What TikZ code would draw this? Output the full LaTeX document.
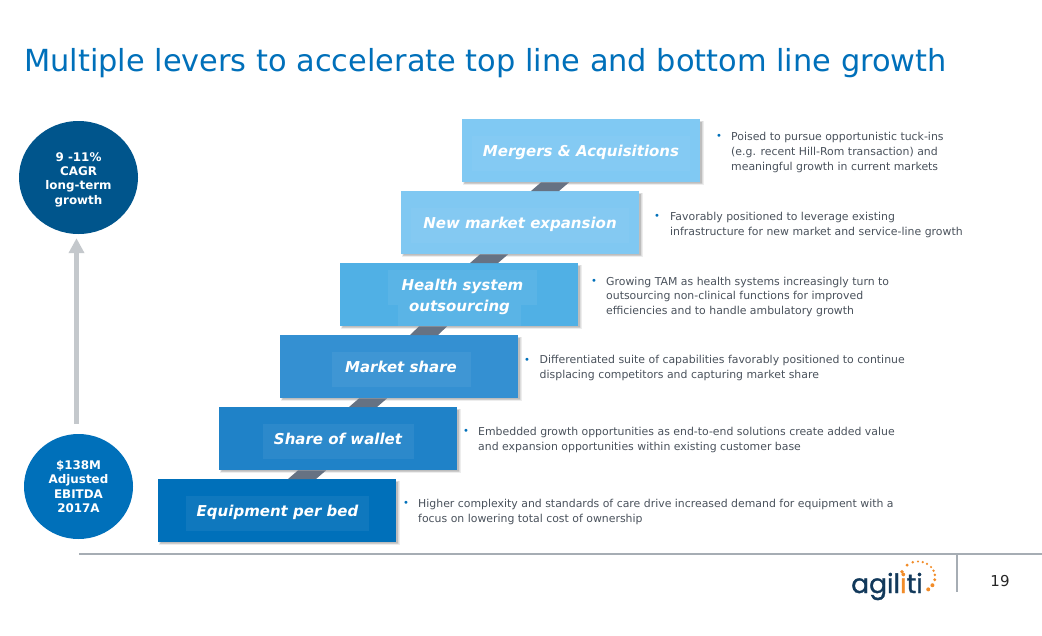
\documentclass[tikz,border=0pt]{standalone}
\usepackage{fontspec}
\setmainfont{DejaVu Sans}
\newfontfamily\logofont[FakeBold=1.2]{Poppins}
\usetikzlibrary{calc,shapes.geometric,arrows.meta}
\definecolor{brandblue}{HTML}{0070BA}
\definecolor{brandnavy}{HTML}{00558C}
\definecolor{boxA}{HTML}{0070BA}
\definecolor{boxB}{HTML}{1F82C8}
\definecolor{boxC}{HTML}{3490D2}
\definecolor{boxD}{HTML}{50B0E5}
\definecolor{boxE}{HTML}{80C8F2}
\definecolor{boxF}{HTML}{80C9F3}
\definecolor{stair}{HTML}{667283}
\definecolor{bodytext}{HTML}{4A525C}
\definecolor{rulegrey}{HTML}{A6ADB4}
\definecolor{arrowgrey}{HTML}{C4C8CC}
\definecolor{logonavy}{HTML}{12395B}
\definecolor{logoorange}{HTML}{F28C28}
\tikzset{
  levelbox/.style={draw=none,inner sep=0pt,minimum width=238pt,minimum height=63pt,anchor=north west},
  boxshadow/.style={fill=black,fill opacity=0.07},
  levellabel/.style={fill=white,fill opacity=0.06,text opacity=1,text=white,inner sep=0pt,
    text height=10pt,text depth=3.4pt,
    font=\fontsize{15}{18}\selectfont\bfseries\itshape},
  noteline/.style={anchor=west,align=left,inner sep=0pt,text=bodytext,
    font=\fontsize{10.9}{14.7}\selectfont},
  bulletmark/.style={inner sep=0pt,text=brandblue,font=\fontsize{10}{10}\selectfont},
  growth/.style={ellipse,inner sep=0pt,align=center,text=white,
    font=\fontsize{11.9}{14.4}\selectfont\bfseries},
  stairlink/.style={fill=stair},
}
\begin{document}
\begin{tikzpicture}[x=1pt,y=-1pt]
\useasboundingbox (0,0) rectangle (1042,635);
\fill[white] (0,0) rectangle (1042,635);

\node[anchor=west,inner sep=0pt,text=brandblue,font=\fontsize{30.4}{36}\selectfont] (title) at (24,63.5)
  {Multiple levers to accelerate top line and bottom line growth};

% shadows
\foreach \x/\y in {158/479,219/407,280/335,340/263,401/191,462/119}{
  \fill[boxshadow] (\x+1,\y+1.5) rectangle (\x+241.5,\y+65.5);
  \fill[boxshadow] (\x+1.5,\y+2) rectangle (\x+240.5,\y+65);
  \fill[boxshadow] (\x+2,\y+2.5) rectangle (\x+240,\y+64.5);
  \fill[boxshadow] (\x+2.5,\y+3) rectangle (\x+239.5,\y+64);
}

% steps
\node[levelbox,fill=boxA] (equip) at (158,479) {};
\node[levelbox,fill=boxB] (wallet) at (219,407) {};
\node[levelbox,fill=boxC] (share) at (280,335) {};
\node[levelbox,fill=boxD] (health) at (340,263) {};
\node[levelbox,fill=boxE] (newmkt) at (401,191) {};
\node[levelbox,fill=boxF] (merger) at (462,119) {};

% links
\foreach \lo/\up in {equip/wallet,wallet/share,share/health,health/newmkt,newmkt/merger}{
  \fill[stairlink] ($(\up.south west)+(79,0)$) -- ($(\up.south west)+(107,0)$)
    -- ($(\lo.north west)+(158,0)$) -- ($(\lo.north west)+(130,0)$) -- cycle;
}

% labels
\node[levellabel,minimum width=183pt,minimum height=35pt] (lA) at (277.5,513.5) {Equipment per bed};
\node[levellabel,minimum width=151pt,minimum height=35pt] (lB) at (338,441.5) {Share of wallet};
\node[levellabel,minimum width=139pt,minimum height=35pt] (lC) at (401,369.5) {Market share};
\node[levellabel,minimum width=149pt,minimum height=35pt] (lD1) at (462.5,287.5) {Health system};
\node[levellabel,minimum width=123pt,minimum height=21pt,text height=3pt,text depth=3pt] (lD2) at (459.5,315.5) {\smash{\raisebox{4.5pt}{outsourcing}}};
\node[levellabel,minimum width=218pt,minimum height=35pt,fill opacity=0.035] (lE) at (520,225.5) {New market expansion};
\node[levellabel,minimum width=218pt,minimum height=35pt,fill opacity=0.035] (lF) at (581,153.5) {Mergers \& Acquisitions};

% notes
\node[bulletmark] (bF) at (719,137) {•};
\node[noteline] (nF) at (731,152.3) {Poised to pursue opportunistic tuck-ins\\(e.g. recent Hill-Rom transaction) and\\meaningful growth in current markets};
\node[bulletmark] (bE) at (657,217) {•};
\node[noteline] (nE) at (670,224.8) {Favorably positioned to leverage existing\\infrastructure for new market and service-line growth};
\node[bulletmark] (bD) at (594,282) {•};
\node[noteline] (nD) at (606,296.8) {Growing TAM as health systems increasingly turn to\\outsourcing non-clinical functions for improved\\efficiencies and to handle ambulatory growth};
\node[bulletmark] (bC) at (527,361) {•};
\node[noteline] (nC) at (539.5,368.3) {Differentiated suite of capabilities favorably positioned to continue\\displacing competitors and capturing market share};
\node[bulletmark] (bB) at (466,432) {•};
\node[noteline] (nB) at (478,439.8) {Embedded growth opportunities as end-to-end solutions create added value\\and expansion opportunities within existing customer base};
\node[bulletmark] (bA) at (406,504) {•};
\node[noteline] (nA) at (418,511.8) {Higher complexity and standards of care drive increased demand for equipment with a\\focus on lowering total cost of ownership};

% circles
\node[growth,fill=brandnavy,minimum width=119pt,minimum height=113pt] (goal) at (78.5,177.5) {\rule{0pt}{13pt}9 -11\%\\CAGR\\long-term\\growth};
\node[growth,fill=brandblue,minimum width=109pt,minimum height=105pt] (base) at (78.5,486.5) {\$138M\\Adjusted\\EBITDA\\2017A};
\draw[arrowgrey,line width=5.5pt,-{Triangle[length=15pt,width=15pt]},shorten <=10pt,shorten >=4pt]
  ($(base.north)+(-2,0)$) -- ($(goal.south)+(-2,0)$);

% footer
\coordinate (ruleL) at (79,553.5);
\coordinate (ruleR) at (1042,553.5);
\coordinate (tickB) at (957,592);
\draw[rulegrey,line width=2pt] (ruleL) -- (ruleR);
\draw[rulegrey,line width=1.3pt] (957,553.5) -- (tickB);
\node[inner sep=0pt,text=black!85,font=\fontsize{15}{18}\selectfont] (page) at (1000,581) {19};

% logo
\node[anchor=base west,inner sep=0pt,font=\logofont\fontsize{26.5}{30}\selectfont] (logo) at (851,593)
  {\textcolor{logonavy}{agil}\textcolor{logoorange}{i}\textcolor{logonavy}{ti}};
\foreach \a/\r in {-53/2.0,-32/2.0,-10/1.6,8/1.4,24/1.3,40/1.2,58/1.2,74/1.2,90/1.2,108/1.3,130/1.6,160/1.9}{
  \fill[logoorange] (918,577)+({17*cos(\a)},{-15.5*sin(\a)}) circle[radius=\r];
}
\end{tikzpicture}
\end{document}
